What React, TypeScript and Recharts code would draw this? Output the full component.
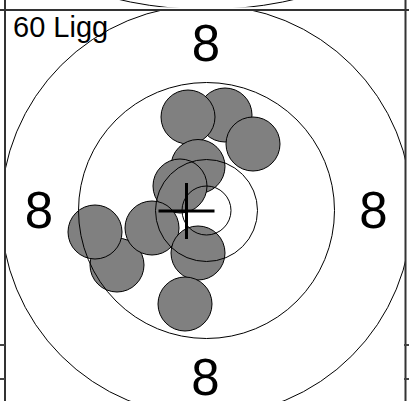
import { ScatterChart, Scatter, XAxis, YAxis, ReferenceLine } from 'recharts'

// Target card: centre of the rings is (0, 0), one unit = one screen pixel, y points up.

const ringRadii = [24.5, 51, 128, 205.5]
const neighbourRingRadii = [390]

// shot holes (centre), drawn in this order
const shotX = [18.5, -18.5, 46.5, -8.5, -26.5, -89.5, -111.5, -54.5, -8.5, -21.5]
const shotY = [95.5, 93.5, 66.5, 44, 24.5, -54.5, -21.5, -17.5, -42.5, -93.5]
const shotRadius = 27

// zone numbers printed on the card
const zoneLabels = ['8', '8', '8', '8']
const zoneLabelX = [-0.5, -167.5, 167, -1]
const zoneLabelY = [167, 0.5, 0.5, -166.5]

// mean point of impact
const mpiX = -20
const mpiY = -0.5
const crossHalf = 28

const title = '60 Ligg'
const titleX = -193.5
const titleY = 173.5

// little table rules sticking out on both sides
const sideRuleY = [-134.5, -168.5]

const W = 409
const CX = 206.5
const CY = 210.5
const PLOT_L = 5
const PLOT_R = 405.5
const PLOT_T = 10
const PX = 1 // pixels per unit
const FONT = 'Liberation Sans, Arial, Helvetica, sans-serif'

const shots = shotX.map((x, i) => ({ x, y: shotY[i] }))
const zoneMarks = zoneLabelX.map((x, i) => ({ x, y: zoneLabelY[i], text: zoneLabels[i] }))
const titleMark = [{ x: titleX, y: titleY, text: title }]
const mpi = [{ x: mpiX, y: mpiY }]

const RingShape = (p: any) => (
  <circle cx={p.cx} cy={p.cy} r={p.payload.radius * PX} fill="none" stroke="#000" strokeWidth={1} />
)

const ShotShape = (p: any) => (
  <circle cx={p.cx} cy={p.cy} r={shotRadius * PX} fill="#808080" stroke="#000" strokeWidth={1} />
)

const CrossShape = (p: any) => (
  <g stroke="#000" strokeWidth={3}>
    <line x1={p.cx - crossHalf * PX} y1={p.cy} x2={p.cx + crossHalf * PX} y2={p.cy} />
    <line x1={p.cx} y1={p.cy - crossHalf * PX} x2={p.cx} y2={p.cy + crossHalf * PX} />
  </g>
)

const ZoneText = (p: any) => (
  <text x={p.cx} y={p.cy} textAnchor="middle" dominantBaseline="central" fontSize={51} fontFamily={FONT} fill="#000">
    {p.payload.text}
  </text>
)

const TitleText = (p: any) => (
  <text x={p.cx} y={p.cy} textAnchor="start" fontSize={29} fontFamily={FONT} fill="#000">
    {p.payload.text}
  </text>
)

interface CellProps {
  top: number
  height: number
  radii: number[]
  main?: boolean
}

function TargetCell({ top, height, radii, main }: CellProps) {
  const xMin = (PLOT_L - CX) / PX
  const xMax = (PLOT_R - CX) / PX
  const yMin = (CY - height) / PX
  const yMax = (CY - PLOT_T) / PX
  const rings = radii.map((radius) => ({ x: 0, y: 0, radius }))
  const margin = { top: PLOT_T, left: PLOT_L, right: W - PLOT_R, bottom: 0 }

  return (
    <>
      {/* card contents, clipped to the card's frame */}
      <div
        style={{
          position: 'absolute',
          left: 0,
          top,
          clipPath: `inset(${PLOT_T}px ${W - PLOT_R}px 0px ${PLOT_L}px)`,
        }}
      >
        <ScatterChart width={W} height={height} margin={margin}>
          <XAxis type="number" dataKey="x" domain={[xMin, xMax]} allowDataOverflow hide />
          <YAxis type="number" dataKey="y" domain={[yMin, yMax]} allowDataOverflow hide />
          {main && <Scatter data={shots} shape={ShotShape} isAnimationActive={false} />}
          <Scatter data={rings} shape={RingShape} isAnimationActive={false} />
          {main && <Scatter data={zoneMarks} shape={ZoneText} isAnimationActive={false} />}
          {main && <Scatter data={titleMark} shape={TitleText} isAnimationActive={false} />}
          {main && <Scatter data={mpi} shape={CrossShape} isAnimationActive={false} />}
        </ScatterChart>
      </div>

      {/* frame and table rules, not clipped */}
      {main && (
        <div style={{ position: 'absolute', left: 0, top }}>
          <ScatterChart width={W} height={height} margin={margin}>
            <XAxis type="number" dataKey="x" domain={[xMin, xMax]} allowDataOverflow hide />
            <YAxis type="number" dataKey="y" domain={[yMin, yMax]} allowDataOverflow hide />
            <ReferenceLine
              segment={[{ x: -CX / PX, y: yMax }, { x: (W - CX) / PX, y: yMax }]}
              stroke="#333"
              strokeWidth={2}
              ifOverflow="visible"
            />
            <ReferenceLine
              segment={[{ x: xMin, y: CY / PX }, { x: xMin, y: yMin }]}
              stroke="#333"
              strokeWidth={2}
              ifOverflow="visible"
            />
            <ReferenceLine
              segment={[{ x: xMax, y: CY / PX }, { x: xMax, y: yMin }]}
              stroke="#333"
              strokeWidth={2}
              ifOverflow="visible"
            />
            {sideRuleY.map((y) => (
              <ReferenceLine
                key={`l${y}`}
                segment={[{ x: -CX / PX, y }, { x: xMin, y }]}
                stroke="#444"
                strokeWidth={2}
                ifOverflow="visible"
              />
            ))}
            {sideRuleY.map((y) => (
              <ReferenceLine
                key={`r${y}`}
                segment={[{ x: xMax - 1.5, y }, { x: (W - CX) / PX, y }]}
                stroke="#444"
                strokeWidth={2}
                ifOverflow="visible"
              />
            ))}
          </ScatterChart>
        </div>
      )}
    </>
  )
}

export default function App() {
  return (
    <div
      style={{
        position: 'absolute',
        left: 0,
        top: 0,
        width: W,
        height: 401,
        overflow: 'hidden',
        background: '#fff',
      }}
    >
      <TargetCell top={-591} height={598.5} radii={neighbourRingRadii} />
      <TargetCell top={0} height={401} radii={ringRadii} main />
    </div>
  )
}
